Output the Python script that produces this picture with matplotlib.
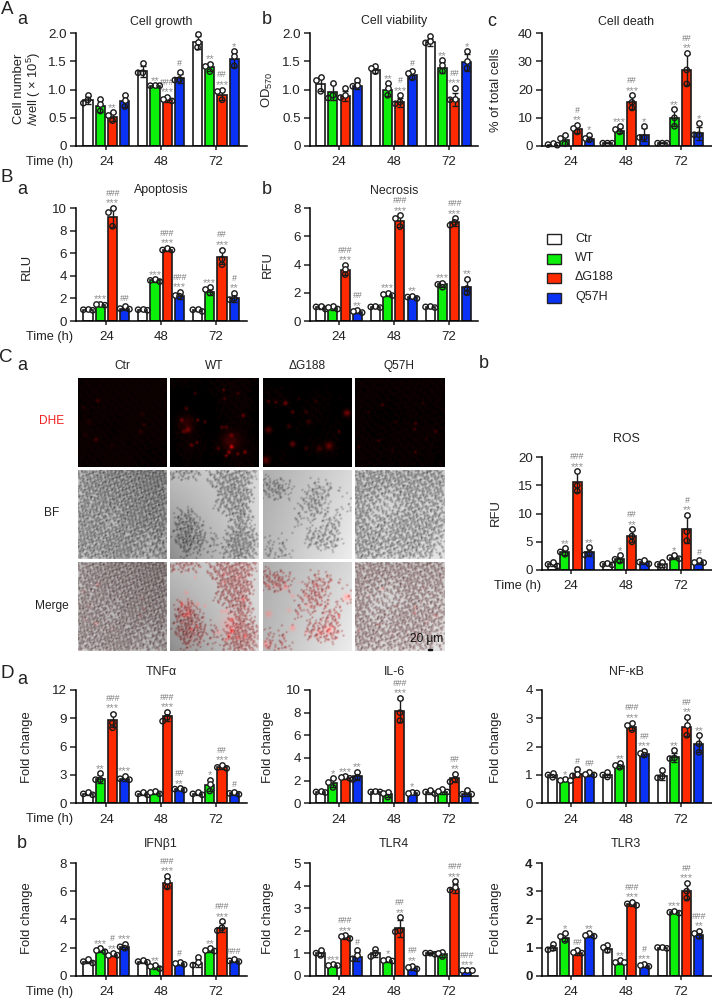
import numpy as np
import matplotlib
matplotlib.use('Agg')
import matplotlib.pyplot as plt
from matplotlib.patches import Rectangle

plt.rcParams['font.family'] = ['Liberation Sans', 'DejaVu Sans']
plt.rcParams['mathtext.default'] = 'regular'

W, H = 712, 999

groups = ['24', '48', '72']
variants = ['Ctr', 'WT', '\u0394G188', 'Q57H']
colors = ['#ffffff', '#0cf00c', '#ff2a00', '#0a32f5']

# Panel A
growth_means = [.82, .71, .52, .80, 1.33, 1.07, .82, 1.2, 1.84, 1.4, .91, 1.54]
growth_pts = [[.9, .82, .76], [.83, .75, .62], [.6, .55, .45], [.9, .82, .7],
              [1.47, 1.3, 1.3], [1.08, 1.07, 1.07], [.87, .83, .8], [1.32, 1.18, 1.17],
              [1.98, 1.85, 1.75], [1.45, 1.42, 1.32], [1.0, .98, .82], [1.68, 1.6, 1.42]]
growth_stars = ['', '', '**', '', '', '**', '***', '', '', '**', '***', '*']
growth_hash = ['', '', '', '', '', '', '###', '#', '', '', '##', '']

viab_means = [1.1, .96, .88, 1.07, 1.34, 1.0, .78, 1.26, 1.84, 1.39, .83, 1.49]
viab_pts = [[1.22, 1.17, .97], [1.12, .9, .85], [1.03, .9, .86], [1.17, 1.08, 1.06],
            [1.42, 1.38, 1.32], [1.11, 1.03, .9], [.9, .78, .75], [1.33, 1.3, 1.21],
            [1.96, 1.87, 1.83], [1.52, 1.44, 1.33], [1.03, .84, .82], [1.68, 1.5, 1.38]]
viab_stars = ['', '', '', '', '', '**', '***', '', '', '**', '***', '*']
viab_hash = ['', '', '', '', '', '', '#', '#', '', '', '##', '']

death_means = [.5, 2, 6, 2.5, 1, 5.5, 15.5, 4, 1, 10, 27, 4.5]
death_pts = [[1.2, .5, .3], [4, 3, .8], [7.5, 6.5, 5], [4, 3, 2.2],
             [1, 1, 1], [7, 6, 5], [18, 15.5, 13.5], [7, 3, 3],
             [1, 1, 1], [13, 10, 7], [33, 27, 22], [8, 4, 4]]
death_stars = ['', '', '**', '*', '', '***', '***', '*', '', '**', '**', '*']
death_hash = ['', '', '#', '', '', '', '##', '', '', '', '##', '']

# Panel B
apop_means = [1, 1.4, 9.2, 1.1, 1, 3.6, 6.3, 2.2, 1, 2.6, 5.7, 2]
apop_pts = [[1.05, 1, .95], [1.55, 1.5, 1.4], [10, 9.7, 8.4], [1.3, 1.1, 1.05],
            [1.05, 1, .95], [3.7, 3.6, 3.5], [6.5, 6.3, 6.3], [2.6, 2.3, 2.2],
            [1.1, 1, .85], [3, 2.8, 2.5], [6.3, 5.5, 5], [2.5, 2, 1.9]]
apop_stars = ['', '***', '***', '', '', '***', '***', '***', '', '***', '***', '**']
apop_hash = ['', '', '###', '##', '', '', '###', '###', '', '', '##', '#']

necr_means = [1, .9, 3.6, .65, 1, 1.85, 7.1, 1.7, 1, 2.6, 7, 2.4]
necr_pts = [[1.1, 1, .85], [1.05, 1, .85], [4, 3.7, 3.3], [.75, .7, .6],
            [1.05, 1, .95], [2, 1.9, 1.8], [7.5, 7.3, 6.7], [1.8, 1.7, 1.6],
            [1.05, 1, .95], [2.7, 2.6, 2.4], [7.3, 7, 6.8], [3, 2.3, 2]]
necr_stars = ['', '', '***', '**', '', '***', '***', '**', '', '***', '***', '**']
necr_hash = ['', '', '###', '##', '', '', '###', '', '', '', '###', '']

# Panel C
ros_means = [1, 3.2, 15.7, 3.2, 1, 2, 6, 1.4, 1, 2.2, 7.2, 1.4]
ros_pts = [[1.4, 1, .7], [3.9, 3.2, 2.8], [17.5, 15, 14], [4, 3, 2.7],
           [1.2, 1, .9], [2.6, 1.9, 1.6], [7.2, 6, 5], [1.7, 1.4, 1.1],
           [1.4, 1, .6], [2.6, 2.2, 2], [9.8, 6.8, 5.2], [1.8, 1.5, 1.3]]
ros_stars = ['', '**', '***', '**', '', '*', '**', '', '', '*', '**', '']
ros_hash = ['', '', '###', '', '', '', '##', '', '', '', '#', '#']

# Panel D
tnf_means = [1, 2.6, 8.8, 2.6, 1, 1.1, 9.2, 1.5, 1, 1.9, 3.8, 1.05]
tnf_pts = [[1.15, 1, .9], [3.2, 2.5, 2.5], [9.5, 8.5, 8], [2.9, 2.6, 2.5],
           [1.2, 1, .9], [1.25, 1.2, 1], [9.7, 9.1, 8.7], [1.6, 1.5, 1.4],
           [1.15, 1, .9], [2.5, 2, 1.3], [4.1, 3.8, 3.7], [1.2, 1.05, .95]]
tnf_stars = ['', '**', '***', '***', '', '', '***', '**', '', '*', '***', '']
tnf_hash = ['', '', '###', '', '', '', '###', '##', '', '', '##', '#']

il6_means = [1, 1.8, 2.25, 2.4, 1, .8, 8.15, .9, 1, 1, 2.2, .85]
il6_pts = [[1.1, 1, .95], [2.2, 1.85, 1.4], [2.4, 2.3, 2.2], [2.8, 2.3, 2.1],
           [1.1, 1, 1], [1, .95, .55], [9.3, 8, 7.3], [1, .95, .9],
           [1.15, 1, .85], [1.3, 1.1, 1], [2.6, 2.1, 1.9], [1.15, .8, .8]]
il6_stars = ['', '*', '***', '**', '', '', '***', '*', '', '', '**', '']
il6_hash = ['', '', '', '', '', '', '###', '', '', '', '##', '']

nfkb_means = [1, .8, 1.03, 1.03, 1, 1.33, 2.7, 1.75, .95, 1.62, 2.7, 2.1]
nfkb_pts = [[1.08, 1, .92], [.85, .83, .82], [1.2, 1.05, .97], [1.12, 1.05, 1],
            [1.1, 1, .93], [1.42, 1.35, 1.27], [2.85, 2.75, 2.6], [1.85, 1.78, 1.7],
            [1.17, .95, .9], [1.88, 1.6, 1.58], [3.05, 2.75, 2.4], [2.4, 2.1, 1.8]]
nfkb_stars = ['', '*', '', '', '', '**', '***', '***', '', '**', '**', '**']
nfkb_hash = ['', '', '#', '##', '', '', '###', '##', '', '', '##', '']

ifn_means = [1, 1.8, 1.45, 2.05, 1, .6, 6.6, .85, .9, 1.8, 3.4, 1.05]
ifn_pts = [[1.15, 1, .9], [1.95, 1.85, 1.7], [1.6, 1.5, 1.45], [2.25, 2.05, 1.95],
           [1.1, 1, .95], [.75, .7, .5], [7.1, 6.7, 6.3], [1, .9, .8],
           [1.3, .95, .75], [1.95, 1.85, 1.75], [3.85, 3.4, 3.2], [1.15, 1.05, 1]]
ifn_stars = ['', '***', '**', '***', '', '**', '***', '', '', '**', '***', '']
ifn_hash = ['', '', '#', '', '', '', '###', '#', '', '', '###', '###']

tlr4_means = [1, .45, 1.7, .85, 1, .65, 2.1, .35, 1, .95, 3.85, .2]
tlr4_pts = [[1.12, 1, .9], [.5, .47, .45], [1.8, 1.75, 1.65], [1.15, .9, .75],
            [1.2, 1, .85], [.75, .7, .65], [2.6, 2, 1.95], [.45, .4, .3],
            [1, 1, .95], [1.05, 1, .85], [4.2, 3.95, 3.8], [.27, .25, .25]]
tlr4_stars = ['', '***', '***', '', '', '*', '**', '**', '', '', '***', '***']
tlr4_hash = ['', '', '###', '#', '', '', '##', '##', '', '', '###', '###']

tlr3_means = [1, 1.35, .8, 1.43, .95, .45, 2.55, .35, 1, 2.25, 3, 1.45]
tlr3_pts = [[1.12, .97, .92], [1.5, 1.4, 1.25], [.92, .85, .8], [1.5, 1.45, 1.4],
            [1.08, 1.03, .9], [.55, .5, .47], [2.63, 2.55, 2.5], [.42, .38, .33],
            [1.03, 1, .97], [2.3, 2.25, 2.22], [3.3, 3, 2.75], [1.6, 1.5, 1.4]]
tlr3_stars = ['', '*', '', '**', '', '**', '***', '***', '', '***', '***', '**']
tlr3_hash = ['', '', '##', '', '', '', '###', '#', '', '', '##', '###']

# micrograph panels, read by eye: cell density on a 6x6 grid, background corners, red spots
density = [
    [[.7, .8, 1, 1, 1, 1], [.6, .9, 1, 1, 1, 1], [.9, .7, .9, 1, 1, 1],
     [.8, .9, .5, .9, 1, .9], [.9, .9, .9, .8, .5, .8], [.7, .8, .9, .8, .4, .7]],
    [[.5, .6, .3, .7, .7, .4], [0, 0, .1, .6, .9, .1], [.1, .2, 0, .5, .9, 0],
     [.2, .9, .2, 0, .7, .1], [.1, .9, .4, .3, 1, .4], [0, .3, .1, .3, .9, .3]],
    [[.1, 0, .1, 0, 0, 0], [.5, .6, .1, .5, .3, .1], [.1, .1, .2, .6, .1, .4],
     [.2, .1, .3, .2, .5, 0], [.2, .3, .1, .6, .5, 0], [.3, .4, .2, 0, .1, 0]],
    [[.7, .7, .8, .7, .8, .7], [.8, .7, .6, .7, .6, .7], [.8, .4, .3, .7, .6, .5],
     [.8, .5, .6, .7, .7, .7], [.7, .7, .6, .8, .7, .3], [.6, .6, .5, .6, .4, .3]],
]
background = [[.78, .62, .82, .72], [.75, .85, .55, .85], [.68, .85, .72, .93], [.82, .82, .85, .9]]
spots = [
    [(22, 25, 2, .3), (6, 33, 1.5, .2), (20, 69, 2, .35), (74, 52, 1.5, .3), (70, 60, 2, .2),
     (72, 40, 2, .15), (8, 64, 2, .15), (38, 75, 2, .12), (12, 49, 3, .1)],
    [(18, 34, 2, .4), (13, 47, 2, .45), (20, 58, 3, .5), (31, 47, 1.5, .6), (39, 49, 1.5, .5),
     (15, 60, 2, .4), (24, 75, 2, .5), (30, 72, 1.5, .5), (69, 77, 2, 1), (66, 83, 2, .7),
     (76, 85, 1.5, .6), (84, 83, 2, .6), (63, 87, 1.5, .7), (82, 42, 2, .5), (60, 13, 1.5, .5),
     (28, 17, 1.5, .4), (58, 55, 2, .4), (63, 55, 2, .4), (69, 64, 2, .4), (54, 79, 2, .4),
     (76, 17, 1.5, .4), (61, 23, 1.5, .4), (18, 50, 9, .18), (67, 70, 10, .28)],
    [(25, 28, 2.5, .55), (6, 26, 1.5, .5), (14, 27, 1.5, .5), (33, 38, 2, .45), (48, 38, 2, .3),
     (94, 39, 3.5, .6), (6, 58, 3.5, .45), (29, 54, 2.5, .3), (51, 49, 2.5, .3), (33, 74, 3, .5),
     (74, 76, 4, .5), (63, 79, 3, .3), (85, 60, 1.5, .4), (3, 92, 4, .45), (48, 79, 2, .3),
     (59, 26, 1.5, .25), (40, 23, 1.5, .25)],
    [(30, 30, 1.5, .45), (15, 38, 1.5, .2), (67, 51, 1.5, .4), (66, 57, 1.5, .35), (89, 60, 2, .3),
     (26, 70, 1.5, .3), (67, 83, 1.5, .35), (4, 77, 1.5, .25), (41, 81, 1.5, .2), (79, 68, 1.5, .2),
     (45, 49, 1.5, .2), (75, 28, 1.5, .2)],
]

fig = plt.figure(figsize=(W / 100, H / 100), dpi=100)


def ptext(x, y, s, size=8.9, **kw):
    # text placed by pixel position in the picture
    kw.setdefault('color', '#222222')
    kw.setdefault('ha', 'center')
    kw.setdefault('va', 'center')
    fig.text(x / W, 1 - y / H, s, fontsize=size, **kw)


def swarm(pts, ppu):
    # spread the three dots sideways when they would overlap
    out = []
    for v in sorted(pts, reverse=True):
        for dx in [0, -.38, .38]:
            if all(abs(dx - a) * 12.2 > 4 or abs(v - b) * ppu > 4 for a, b in out):
                out.append((dx, v))
                break
        else:
            out.append((0, v))
    return out


def bar_panel(left, right, first, top, base, ymax, yticks, means, pts, stars, hashes, ticklabels=None, bold=False):
    ax = fig.add_axes([left / W, 1 - base / H, (right - left) / W, (base - top) / H])
    step = 12.25
    xs = [g * 4.47 + b for g in range(3) for b in range(4)]
    ppu = (base - top) / ymax
    for i, x in enumerate(xs):
        c = colors[i % 4]
        ax.bar(x, means[i], width=.74, color=c, edgecolor='#1a1a1a', linewidth=1.2, zorder=2)
        sd = np.std(pts[i], ddof=1)
        ax.errorbar(x, means[i], yerr=sd, color='#1a1a1a', lw=1, capsize=2.3, capthick=1, zorder=3, clip_on=False)
        for dx, v in swarm(pts[i], ppu):
            ax.scatter(x + dx, v, s=15, facecolor='white' if v > means[i] else 'none', edgecolor='#1a1a1a',
                       linewidth=1, zorder=4, clip_on=False)
        y0 = max(max(pts[i]), means[i] + sd)
        if stars[i]:
            ax.annotate(stars[i], (x, y0), xytext=(0, 3.2), textcoords='offset points', ha='center', va='center',
                        fontsize=8, color='#909090', annotation_clip=False)
        if hashes[i]:
            off = 10.5 if stars[i] else 5.5
            ax.annotate(hashes[i], (x, y0), xytext=(0, off), textcoords='offset points', ha='center', va='center',
                        fontsize=6.2, color='#777777', style='italic', annotation_clip=False)
    ax.set_xlim((left - first) / step, (right - first) / step)
    ax.set_ylim(0, ymax)
    ax.set_yticks(yticks)
    ax.set_yticklabels(ticklabels if ticklabels else [str(t) for t in yticks],
                       fontweight='bold' if bold else 'normal')
    ax.set_xticks([1.5 + g * 4.47 for g in range(3)])
    ax.set_xticklabels(groups)
    ax.tick_params(axis='y', length=4.2, width=1.1, labelsize=9.6, pad=2.5, colors='#222222')
    ax.tick_params(axis='x', length=3, width=1.1, labelsize=9.6, pad=4.5, colors='#222222')
    ax.spines['top'].set_visible(False)
    ax.spines['right'].set_visible(False)
    ax.spines['left'].set_linewidth(1.1)
    ax.spines['bottom'].set_linewidth(1.1)
    ax.patch.set_alpha(0)
    return ax


col1 = (76, 247, 88)
col2 = (310, 478, 320.7)
col3 = (542, 711.5, 552.7)

bar_panel(*col1, 33.3, 146, 2, [0, .5, 1, 1.5, 2], growth_means, growth_pts, growth_stars, growth_hash,
          ['0', '0.5', '1.0', '1.5', '2.0'])
bar_panel(*col2, 33.3, 146, 2, [0, .5, 1, 1.5, 2], viab_means, viab_pts, viab_stars, viab_hash,
          ['0', '0.5', '1.0', '1.5', '2.0'])
bar_panel(*col3, 33.3, 146, 40, [0, 10, 20, 30, 40], death_means, death_pts, death_stars, death_hash)
bar_panel(*col1, 208.3, 321, 10, [0, 2, 4, 6, 8, 10], apop_means, apop_pts, apop_stars, apop_hash)
bar_panel(*col2, 208.3, 321, 8, [0, 2, 4, 6, 8], necr_means, necr_pts, necr_stars, necr_hash)
bar_panel(*col3, 457.3, 570, 20, [0, 5, 10, 15, 20], ros_means, ros_pts, ros_stars, ros_hash)
bar_panel(*col1, 690, 803.3, 12, [0, 3, 6, 9, 12], tnf_means, tnf_pts, tnf_stars, tnf_hash)
bar_panel(*col2, 690, 803.3, 10, [0, 2, 4, 6, 8, 10], il6_means, il6_pts, il6_stars, il6_hash)
bar_panel(*col3, 690, 803.3, 4, [0, 1, 2, 3, 4], nfkb_means, nfkb_pts, nfkb_stars, nfkb_hash)
bar_panel(*col1, 863, 975.7, 8, [0, 2, 4, 6, 8], ifn_means, ifn_pts, ifn_stars, ifn_hash)
bar_panel(*col2, 863, 975.7, 5, [0, 1, 2, 3, 4, 5], tlr4_means, tlr4_pts, tlr4_stars, tlr4_hash)
bar_panel(*col3, 863, 975.7, 4, [0, 1, 2, 3, 4], tlr3_means, tlr3_pts, tlr3_stars, tlr3_hash, bold=True)


################################################
# micrographs

N = 178
yy, xx = np.mgrid[0:N, 0:N].astype(float)

# one embossed cell, bright on one side and dark on the other
gy, gx = np.mgrid[-4:5, -4:5].astype(float)
cell_g = np.exp(-(gx ** 2 + gy ** 2) / (2 * 1.4 ** 2))
cell_r = (gx + gy) / 1.4 * cell_g


def upsample(grid):
    grid = np.array(grid, dtype=float)
    pos = np.linspace(0, grid.shape[0] - 1, N)
    idx = np.arange(grid.shape[0])
    rows = np.array([np.interp(pos, idx, r) for r in grid])
    return np.array([np.interp(pos, idx, rows[:, j]) for j in range(N)]).T


def brightfield(k):
    # cells dropped on a fixed irrational sequence, kept or not according to the density grid
    d = np.clip((upsample(density[k]) - .18) * 1.35, 0, 1)
    cover = np.zeros((N + 8, N + 8))
    relief = np.zeros((N + 8, N + 8))
    for i in range(1, 4200):
        x = ((i * .75488 + k * .13) % 1) * N + 4 * np.sin(i * 2.3)
        y = ((i * .56984 + k * .29) % 1) * N + 4 * np.cos(i * 1.7)
        if not (0 <= x < N and 0 <= y < N):
            continue
        if d[int(y), int(x)] <= (i * .61803) % 1:
            continue
        px, py = int(x), int(y)
        cover[py:py + 9, px:px + 9] += cell_g
        relief[py:py + 9, px:px + 9] += cell_r * (.7 + .3 * np.sin(i * 1.3))
    cover = np.clip(cover[4:-4, 4:-4], 0, 1)
    relief = relief[4:-4, 4:-4]
    tl, tr, bl, br = background[k]
    bg = upsample([[tl, tr], [bl, br]])
    gray = bg * (1 - cover * .3) + relief * .14
    return np.clip(gray, 0, 1), d, cover


def red_field(k):
    r = np.zeros((N, N))
    for x, y, s, a in spots[k]:
        r += a * np.exp(-((xx - x * N / 100) ** 2 + (yy - y * N / 100) ** 2) / (2 * (s * 1.3) ** 2))
    return np.clip(r * .75, 0, 1)


def image_axes(x0, y0):
    ax = fig.add_axes([x0 / W, 1 - (y0 + 88.6) / H, 89 / W, 88.6 / H])
    ax.axis('off')
    return ax


cols_x = [78, 170, 263, 355]
rows_y = [378, 470, 562]
pink = [.12, .5, .6, .18]
for k, x0 in enumerate(cols_x):
    gray, d, cover = brightfield(k)
    red = red_field(k)
    dhe = np.dstack([np.clip(red + cover * .05, 0, 1), red * .03, red * .03])
    image_axes(x0, rows_y[0]).imshow(dhe, aspect='auto', interpolation='bilinear')
    image_axes(x0, rows_y[1]).imshow(gray, cmap='gray', vmin=0, vmax=1, aspect='auto', interpolation='bilinear')
    tint = np.clip(red * 1.1 + cover * pink[k] * .6, 0, 1)
    merge = np.dstack([np.clip(gray + tint * .45, 0, 1), gray * (1 - tint * .4), gray * (1 - tint * .4)])
    image_axes(x0, rows_y[2]).imshow(merge, aspect='auto', interpolation='bilinear')
    ptext(x0 + 44.5, 366, variants[k], size=8.6)

ptext(52, 421, 'DHE', size=8.6, color='#f02020')
ptext(52, 513, 'BF', size=8.6)
ptext(52, 606, 'Merge', size=8.6)
ptext(427, 639, '20 \u03bcm', size=8.6, color='#111111')
fig.add_artist(Rectangle((428 / W, 1 - 649.5 / H), 4 / W, 1 / H, transform=fig.transFigure, color='#111111'))

################################################
# titles, labels

for x, y, s in [(161, 22, 'Cell growth'), (394, 21, 'Cell viability'), (626, 22, 'Cell death'),
                (161, 190.5, 'Apoptosis'), (394, 190.5, 'Necrosis'), (626, 439, 'ROS'),
                (161, 672, 'TNF\u03b1'), (394, 672, 'IL-6'), (626, 672, 'NF-\u03baB'),
                (161, 844, 'IFN\u03b21'), (394, 844, 'TLR4'), (626, 844, 'TLR3')]:
    ptext(x, y, s)

for x, y, s in [(19.5, 89, 'Cell number'), (33.5, 89, '/well ( \u00d7 10$^5$)'), (267, 90, 'OD$_{570}$'),
                (496, 90, '% of total cells'), (27, 267, 'RLU'), (268, 265, 'RFU'), (496, 513, 'RFU'),
                (27, 747, 'Fold change'), (268, 747, 'Fold change'), (496, 747, 'Fold change'),
                (27, 918, 'Fold change'), (268, 918, 'Fold change'), (496, 918, 'Fold change')]:
    ptext(x, y, s, size=9.4, rotation=90)

for x, y in [(50, 162), (50, 337), (518, 586), (50, 819), (50, 991.5)]:
    ptext(x, y, 'Time (h)', size=9.2)

for x, y, s in [(7, 9, 'A'), (7, 177, 'B'), (6, 358, 'C'), (7, 673, 'D')]:
    ptext(x, y, s, size=13.5)
for x, y, s in [(22, 20, 'a'), (267, 20, 'b'), (492, 21, 'c'), (22, 189, 'a'), (267, 189, 'b'),
                (22, 365, 'a'), (484, 364, 'b'), (22, 680, 'a'), (22, 843, 'b')]:
    ptext(x, y, s, size=13)

# legend
for ly, c, name in zip([239.3, 258.7, 278, 297.7], colors, variants):
    fig.add_artist(Rectangle((547 / W, 1 - (ly + 5) / H), 14 / W, 10 / H, transform=fig.transFigure,
                             facecolor=c, edgecolor='#222222', linewidth=1))
    ptext(575, ly - .5, name, ha='left', size=9)

fig.savefig('out.png', dpi=100)
